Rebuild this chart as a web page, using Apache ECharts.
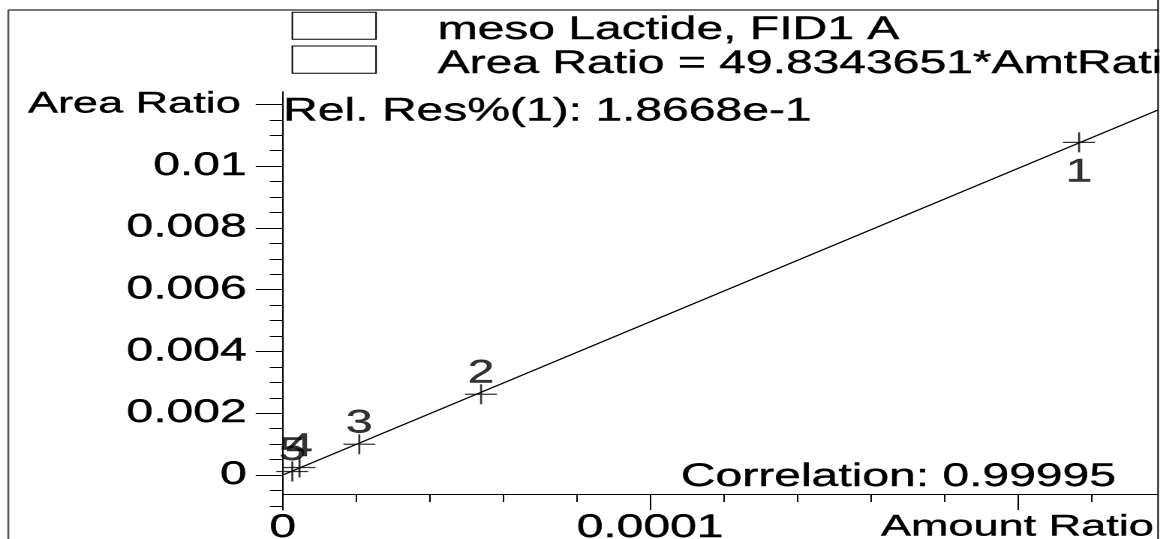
<!DOCTYPE html>
<html>
<head>
<meta charset="utf-8">
<script src="https://cdn.jsdelivr.net/npm/echarts@6/dist/echarts.min.js"></script>
<style>
html,body{margin:0;padding:0;background:#fff;overflow:hidden;width:1160px;height:539px;}
#wrap{width:1160px;height:539px;overflow:hidden;position:relative;}
#chart{width:773px;height:539px;transform:scaleX(1.5007);transform-origin:0 0;position:absolute;left:0;top:0;}
</style>
</head>
<body>
<div id="wrap"><div id="chart"></div></div>
<script>
// ---- data ----
const pointLabels = ['1', '2', '3', '4', '5'];
const amountRatio = [2.168e-4, 5.40e-5, 2.085e-5, 4.57e-6, 2.61e-6];
const areaRatio = [0.010770, 0.002613, 0.000994, 0.000243, 0.000113];
const fitLineX = [0, 0.0002383];
const fitLineY = [0, 0.011816];
const xTickValues = [0, 0.0001, 0.0002];
const xTickLabels = ['0', '0.0001', 'Amount Ratio'];
const yTickValues = [0, 0.002, 0.004, 0.006, 0.008, 0.01, 0.012];
const yTickLabels = ['0', '0.002', '0.004', '0.006', '0.008', '0.01', 'Area Ratio'];
const titleLine1 = 'meso Lactide, FID1 A';
const titleLine2 = 'Area Ratio = 49.8343651*AmtRatio';
const relResText = 'Rel. Res%(1): 1.8668e-1';
const correlationText = 'Correlation: 0.99995';

const S = 1160 / 773; // horizontal stretch of the reference picture
const X = v => v / S;
const FONT = "'Liberation Sans', Arial, sans-serif";
const FS = 32;
const TB = {textBorderColor: '#000', textBorderWidth: 0.4};
const chart = echarts.init(document.getElementById('chart'), null, {renderer: 'canvas', devicePixelRatio: 2});

function lookup(values, labels, v) {
  for (let i = 0; i < values.length; i++) {
    if (Math.abs(values[i] - v) < 1e-12) {
      if (i === values.length - 1) return '{n|' + labels[i] + '}';
      return labels[i];
    }
  }
  return '';
}

const scatterData = amountRatio.map((x, i) => {
  const item = {value: [x, areaRatio[i]], name: pointLabels[i]};
  if (i === 0) item.label = {position: 'bottom', distance: 2};
  return item;
});

const txt = (x, y, text, align) => ({
  type: 'text', x: x, y: y, silent: true,
  style: Object.assign({text: text, fill: '#000', fontSize: FS, fontFamily: FONT, textAlign: align, textVerticalAlign: 'middle'},
    {stroke: '#000', lineWidth: 0.4})
});

const option = {
  animation: false,
  backgroundColor: '#fff',
  grid: {left: X(282.7), top: 91.7, right: X(2), bottom: 29, containLabel: false, outerBoundsMode: 'none'},
  xAxis: {
    type: 'value',
    min: 0,
    max: 0.0002383,
    minInterval: 0.0001,
    maxInterval: 0.0001,
    offset: -16,
    axisLine: {show: true, onZero: false, lineStyle: {color: '#000', width: 1}},
    axisTick: {show: true, length: 16, lineStyle: {color: '#000', width: 1}, customValues: xTickValues},
    minorTick: {show: true, splitNumber: 5, length: 8, lineStyle: {color: '#000', width: 1}},
    splitLine: {show: false},
    minorSplitLine: {show: false},
    axisLabel: Object.assign({
      customValues: xTickValues,
      margin: 18,
      color: '#000',
      fontSize: FS,
      fontFamily: FONT,
      hideOverlap: false,
      formatter: v => lookup(xTickValues, xTickLabels, v),
      rich: {n: Object.assign({fontSize: 30, fontFamily: FONT, color: '#000'}, TB)}
    }, TB)
  },
  yAxis: {
    type: 'value',
    min: -0.001133,
    max: 0.012409,
    minInterval: 0.002,
    maxInterval: 0.002,
    axisLine: {show: true, onZero: false, lineStyle: {color: '#000', width: 1}},
    axisTick: {show: true, length: X(27), lineStyle: {color: '#000', width: 1}, customValues: yTickValues},
    minorTick: {show: true, splitNumber: 4, length: X(13), lineStyle: {color: '#000', width: 1}},
    splitLine: {show: false},
    minorSplitLine: {show: false},
    axisLabel: Object.assign({
      customValues: yTickValues,
      margin: 24,
      color: '#000',
      fontSize: FS,
      fontFamily: FONT,
      hideOverlap: false,
      formatter: v => lookup(yTickValues, yTickLabels, v),
      rich: {n: Object.assign({fontSize: 30, fontFamily: FONT, color: '#000', padding: [0, 4, 0, 0]}, TB)}
    }, TB)
  },
  series: [
    {
      type: 'line',
      data: fitLineX.map((x, i) => [x, fitLineY[i]]),
      symbol: 'none',
      silent: true,
      lineStyle: {color: '#000', width: 1.2},
      z: 2
    },
    {
      type: 'scatter',
      data: scatterData,
      symbol: 'path://M0,10L20,10M10,0L10,20',
      symbolSize: [X(32), 20],
      silent: true,
      itemStyle: {color: 'none', borderColor: '#000', borderWidth: 1.3},
      label: Object.assign({
        show: true,
        position: 'top',
        distance: -8,
        formatter: p => p.name,
        color: '#000',
        fontSize: FS,
        fontFamily: FONT
      }, TB),
      z: 3
    }
  ],
  graphic: [
    {type: 'line', shape: {x1: X(8.3), y1: 10, x2: X(1158), y2: 10}, style: {stroke: '#777', lineWidth: 2}, silent: true},
    {type: 'line', shape: {x1: X(8.3), y1: 10, x2: X(8.3), y2: 545}, style: {stroke: '#555', lineWidth: 1.3}, silent: true},
    {type: 'line', shape: {x1: X(1158), y1: 0, x2: X(1158), y2: 545}, style: {stroke: '#000', lineWidth: 1}, silent: true, z: 10},
    {type: 'rect', shape: {x: X(292.3), y: 12.3, width: X(83.7), height: 27}, style: {fill: '#fff', stroke: '#000', lineWidth: 1}, silent: true},
    {type: 'rect', shape: {x: X(292.3), y: 46, width: X(83.7), height: 27.3}, style: {fill: '#fff', stroke: '#000', lineWidth: 1}, silent: true},
    txt(X(440.7) - 2.1, 30, titleLine1, 'left'),
    txt(X(440.7) - 2.1, 64, titleLine2, 'left'),
    txt(X(287) - 2.6, 111.5, relResText, 'left'),
    txt(X(1114) + 1.3, 477, correlationText, 'right')
  ]
};
chart.setOption(option);
</script>
</body>
</html>
